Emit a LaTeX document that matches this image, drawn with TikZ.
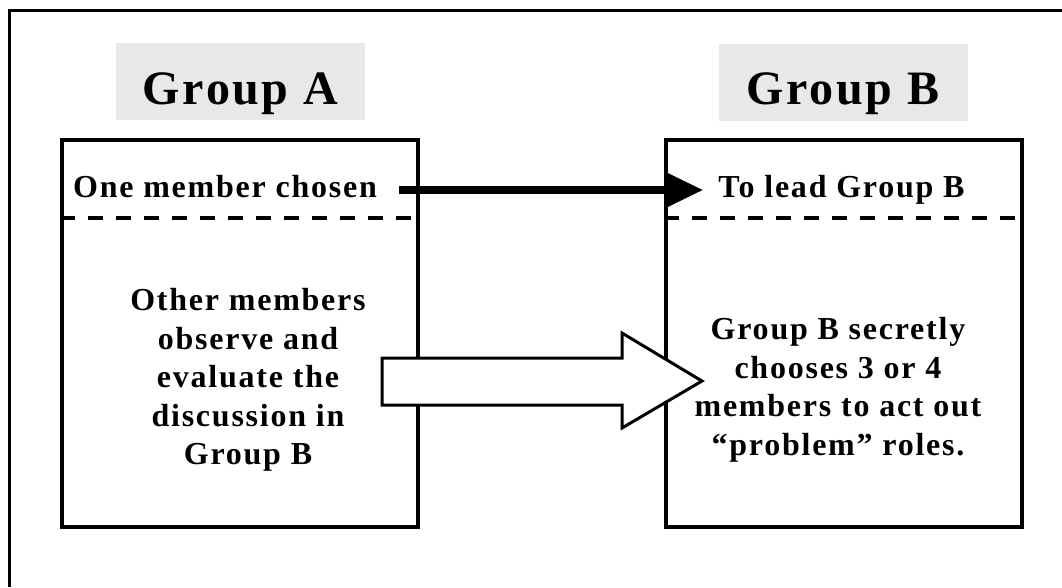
\documentclass[tikz,border=0pt]{standalone}
\usepackage{fontspec}
\setmainfont{Liberation Serif}[LetterSpace=5.5]
\usetikzlibrary{arrows.meta}
\definecolor{titlegray}{HTML}{E8E8E8}

\begin{document}
\begin{tikzpicture}[x=1pt, y=-1pt,
    title/.style={fill=titlegray, minimum width=249pt, inner sep=0pt, text height=61pt, text depth=16pt, font=\bfseries\fontsize{48}{56}\selectfont},
    groupbox/.style={draw, line width=4pt, minimum width=356pt, minimum height=387pt, inner sep=0pt},
    divider/.style={line width=4.5pt, dash pattern=on 15pt off 13pt},
    headtext/.style={anchor=base, inner sep=0pt, text height=21pt, text depth=7pt, font=\bfseries\fontsize{32}{38.5}\selectfont},
    bodytext/.style={align=center, inner sep=0pt, font=\bfseries\fontsize{32}{38.5}\selectfont}]

  \useasboundingbox (0,0) rectangle (1062,587);

  % frame
  \draw[line width=3pt] (9,587) -- (9,10) -- (1062,10);

  \node[title] (titleA) at (240.5,81.5) {Group A};
  \node[title] (titleB) at (843,82) {Group B};

  \node[groupbox] (boxA) at (240,333.5) {};
  \node[groupbox] (boxB) at (843.5,333.5) {};

  \draw[divider] ([yshift=-80pt]boxA.north west) -- ([yshift=-80pt]boxA.north east);
  \draw[divider] ([yshift=-80pt]boxB.north west) -- ([yshift=-80pt]boxB.north east);

  % hollow arrow between the boxes
  \draw[line width=3pt, fill=white, line join=miter] (382,358) -- (622,358) -- (622,333) -- (702,381) -- (622,428) -- (622,405) -- (382,405) -- cycle;

  \node[headtext] (chosen) at (225,197) {One member chosen};
  \node[headtext] (lead) at (841.5,197) {To lead Group B};

  \draw[line width=8pt, -{Triangle[length=38pt, width=34pt]}] ([xshift=22pt]chosen.east) -- ([xshift=-15pt]lead.west);

  \node[bodytext] (observe) at (248,380) {Other members\\observe and\\evaluate the\\discussion in\\Group B};
  \node[bodytext] (secret) at (838,390) {Group B secretly\\chooses 3 or 4\\members to act out\\“problem” roles.};

\end{tikzpicture}
\end{document}
